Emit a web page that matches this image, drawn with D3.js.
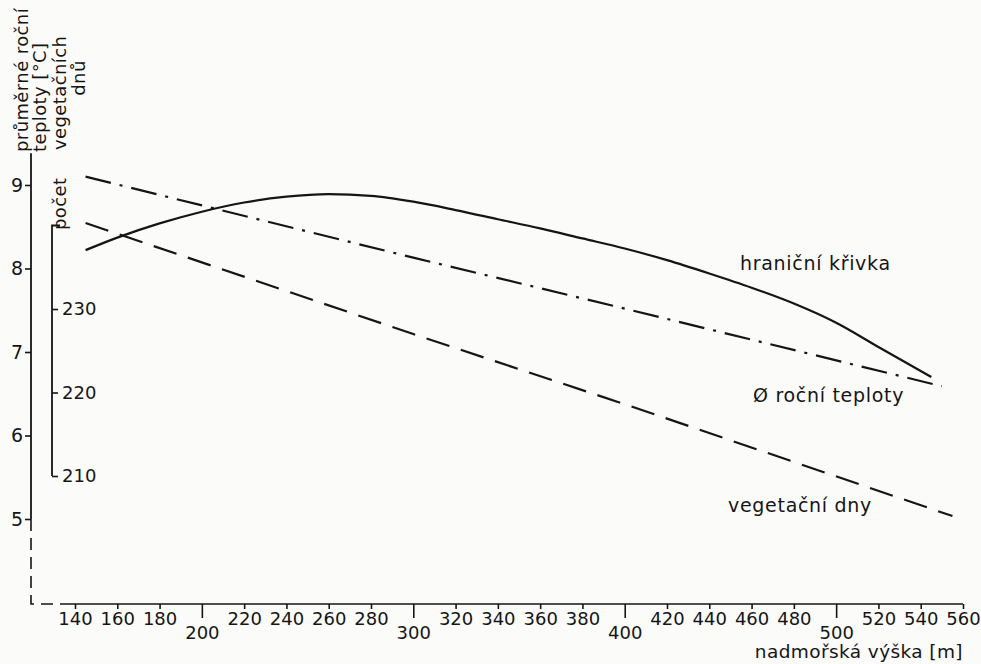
<!DOCTYPE html>
<html>
<head>
<meta charset="utf-8">
<script src="https://cdn.jsdelivr.net/npm/d3@7"></script>
<style>
  html, body { margin: 0; padding: 0; background: #fbfbfa; }
  svg { display: block; }
  text { fill: #151515; font-family: "DejaVu Sans", sans-serif; }
</style>
</head>
<body>
<svg id="chart" width="981" height="664"></svg>
<script>
// nadmořská výška [m]
const heights = [145, 160, 180, 200, 220, 240, 260, 280, 300, 320, 340, 360, 380, 400, 420, 440, 460, 480, 500, 520, 545];
// hraniční křivka [°C]
const boundary = [8.22, 8.37, 8.54, 8.68, 8.79, 8.86, 8.89, 8.87, 8.80, 8.70, 8.59, 8.48, 8.36, 8.24, 8.10, 7.94, 7.77, 7.58, 7.35, 7.06, 6.70];

// Ø roční teploty [°C]
const tempHeights = [145, 300, 400, 550];
const tempValues = [9.10, 8.13, 7.52, 6.59];

// vegetační dny [dny]
const vegHeights = [145, 300, 400, 555];
const vegDays = [240.3, 227.0, 218.6, 205.2];

const xTicks = d3.range(140, 561, 20);
const xMajor = [200, 300, 400, 500];
const tTicks = [5, 6, 7, 8, 9];
const dTicks = [210, 220, 230];

const ink = "#151515";
const numFont = '"DejaVu Sans Condensed", "Liberation Sans Narrow", "DejaVu Sans", sans-serif';

const svg = d3.select("#chart");

const x = d3.scaleLinear().domain([140, 560]).range([75, 963]);
const yT = d3.scaleLinear().domain([5, 9]).range([519, 185]);
const yD = d3.scaleLinear().domain([210, 230]).range([476, 309]);
const axisY = 604;

// --- x axis ---
const gx = svg.append("g")
  .attr("transform", `translate(0,${axisY})`)
  .call(d3.axisBottom(x).tickValues(xTicks).tickSize(5).tickSizeOuter(0).tickFormat(d3.format("d")));
gx.attr("font-family", numFont).attr("font-size", 18);
gx.select(".domain").attr("stroke", ink).attr("stroke-width", 1.6)
  .attr("d", `M${x(140) - 3},0H${x(560)}`);
gx.selectAll(".tick line").attr("stroke", ink).attr("stroke-width", 1.6);
gx.selectAll(".tick text").attr("fill", ink).attr("y", 8);
gx.selectAll(".tick").filter(d => xMajor.includes(d))
  .call(t => t.select("line").attr("y2", 14))
  .call(t => t.select("text").attr("y", 22));

svg.append("text")
  .attr("x", 963).attr("y", 658)
  .attr("text-anchor", "end")
  .attr("font-size", 18.5)
  .attr("letter-spacing", 0.4)
  .text("nadmořská výška [m]");

// --- main y axis (teplota) ---
const axX = 31;
const gy = svg.append("g")
  .attr("transform", `translate(${axX},0)`)
  .call(d3.axisLeft(yT).tickValues(tTicks).tickSize(6).tickFormat(d3.format("d")));
gy.select(".domain").remove();
gy.attr("font-family", numFont).attr("font-size", 19);
gy.selectAll(".tick line").attr("stroke", ink).attr("stroke-width", 1.6);
gy.selectAll(".tick text").attr("fill", ink).attr("x", -8);

svg.append("line")
  .attr("x1", axX).attr("x2", axX)
  .attr("y1", yT(9.38)).attr("y2", yT(5))
  .attr("stroke", ink).attr("stroke-width", 1.8);
svg.append("path")
  .attr("d", `M${axX},${yT(5)}V${axisY}H${x(140) - 3}`)
  .attr("fill", "none").attr("stroke", ink).attr("stroke-width", 1.6)
  .attr("stroke-dasharray", "12,7");

// --- secondary axis (počet vegetačních dnů) ---
const dX = 52;
const gd = svg.append("g")
  .attr("transform", `translate(${dX},0)`)
  .call(d3.axisRight(yD).tickValues(dTicks).tickSize(6).tickFormat(d3.format("d")));
gd.select(".domain").remove();
gd.attr("font-family", numFont).attr("font-size", 18);
gd.selectAll(".tick line").attr("stroke", ink).attr("stroke-width", 1.6);
gd.selectAll(".tick text").attr("fill", ink).attr("x", 10);
svg.append("path")
  .attr("d", `M${dX + 8},${yD(240)}H${dX}V${yD(210)}`)
  .attr("fill", "none").attr("stroke", ink).attr("stroke-width", 1.8);

// rotated axis titles
const rot = (xx, yy, txt, anchor = "start") => svg.append("text")
  .attr("transform", `translate(${xx},${yy}) rotate(-90)`)
  .attr("text-anchor", anchor)
  .attr("font-size", 18)
  .attr("letter-spacing", 0.4)
  .text(txt);
rot(28, 152, "průměrné roční");
rot(46, 152, "teploty [°C]");
rot(66, 230, "počet");
rot(66, 150, "vegetačních");
rot(85, 78, "dnů", "middle");

// --- series ---
svg.append("path")
  .attr("d", d3.line().x(d => x(d[0])).y(d => yT(d[1])).curve(d3.curveMonotoneX)(d3.zip(heights, boundary)))
  .attr("fill", "none").attr("stroke", ink).attr("stroke-width", 2.2);

svg.append("path")
  .attr("d", d3.line().x(d => x(d[0])).y(d => yT(d[1]))(d3.zip(tempHeights, tempValues)))
  .attr("fill", "none").attr("stroke", ink).attr("stroke-width", 2.2)
  .attr("stroke-dasharray", "26,9,3,9");

svg.append("path")
  .attr("d", d3.line().x(d => x(d[0])).y(d => yD(d[1]))(d3.zip(vegHeights, vegDays)))
  .attr("fill", "none").attr("stroke", ink).attr("stroke-width", 2.2)
  .attr("stroke-dasharray", "24,12");

// --- in-plot labels ---
const lab = (xx, yy, txt) => svg.append("text")
  .attr("x", xx).attr("y", yy).attr("font-size", 19)
  .attr("letter-spacing", 0.7).text(txt);
lab(740, 270, "hraniční křivka");
lab(753, 402, "Ø roční teploty");
lab(728, 512, "vegetační dny");
</script>
</body>
</html>
